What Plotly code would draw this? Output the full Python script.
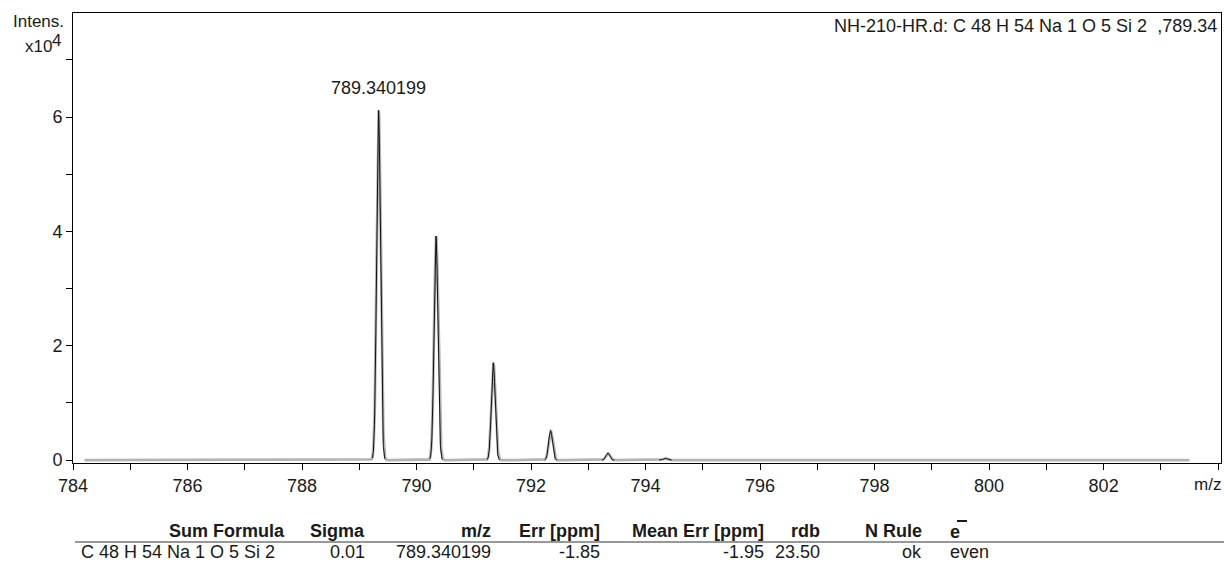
import numpy as np
import plotly.graph_objects as go

# ---- data ----
peak_mz = [789.340199, 790.3435, 791.3440, 792.3445, 793.3450, 794.3455]
peak_intensity = [61100, 39100, 16900, 5100, 1200, 300]   # counts
meas_intensity = [61200, 39200, 17000, 5150, 1250, 320]
mz_start, mz_end = 784.2, 803.5
peak_sigma = 0.036

table_headers = ["Sum Formula", "Sigma", "m/z", "Err [ppm]", "Mean Err [ppm]", "rdb", "N Rule", "e"]
table_row = ["C 48 H 54 Na 1 O 5 Si 2", "0.01", "789.340199", "-1.85", "-1.95", "23.50", "ok", "even"]
title_text = "NH-210-HR.d: C 48 H 54 Na 1 O 5 Si 2  ,789.34"
label_text = "789.340199"

# ---- profiles ----
x = np.linspace(mz_start, mz_end, 12000)
sim = np.zeros_like(x)
for c, h in zip(peak_mz, peak_intensity):
    sim += h * np.exp(-0.5 * ((x - c) / peak_sigma) ** 2)

mx, my = [], []
for c, h in zip(peak_mz, meas_intensity):
    xs = np.linspace(c - 0.11, c + 0.11, 120)
    ys = h * np.exp(-0.5 * ((xs - c + 0.004) / (peak_sigma * 0.92)) ** 2)
    mx += list(xs) + [None]
    my += list(ys / 1e4) + [None]

FONT = "Liberation Sans, Arial, sans-serif"
TXT = "#1a1a1a"
FS = 18

fig = go.Figure()
fig.add_trace(go.Scatter(x=x, y=sim / 1e4, mode="lines",
                         line=dict(color="#b4b4b4", width=2.8), hoverinfo="skip"))
fig.add_trace(go.Scatter(x=mx, y=my, mode="lines",
                         line=dict(color="#111111", width=1), hoverinfo="skip"))

L, R, T, B = 73, 3, 13, 101
W, H = 1224, 564
pw, ph = W - L - R, H - T - B

def px(xp):
    return (xp - L) / pw

def py(yp):
    return (H - B - yp) / ph

axis_common = dict(tickmode="linear", dtick=2,
                   ticks="outside", ticklen=6, tickcolor="black", tickwidth=1,
                   showgrid=False, zeroline=False, showline=True, linecolor="black",
                   linewidth=1, mirror=True,
                   tickfont=dict(size=FS, family=FONT, color=TXT))

fig.update_layout(
    width=W, height=H,
    margin=dict(l=L, r=R, t=T, b=B),
    paper_bgcolor="white", plot_bgcolor="white",
    showlegend=False,
    font=dict(family=FONT, size=FS, color=TXT),
    xaxis=dict(range=[784, 804.05], tick0=784,
               minor=dict(dtick=1, ticks="outside", ticklen=6, tickcolor="black"),
               **axis_common),
    yaxis=dict(range=[-0.05, 7.82], tick0=0,
               minor=dict(dtick=1, ticks="outside", ticklen=6, tickcolor="black"),
               **axis_common),
)

ann = []
def A(text, xp, yp, xanchor="left", bold=False, size=FS):
    ann.append(dict(text=("<b>%s</b>" % text) if bold else text,
                    x=px(xp), y=py(yp), xref="paper", yref="paper",
                    xanchor=xanchor, yanchor="middle", showarrow=False,
                    font=dict(family=FONT, size=size, color=TXT)))

A(title_text, 1219, 26, "right")
A("Intens.", 66, 21, "right", size=17)
A("x10", 54, 46, "right", size=17)
A("4", 50, 40, "left", size=17)
A("m/z", 1223, 484, "right", size=17)
ann.append(dict(text=label_text, x=peak_mz[0], y=peak_intensity[0] / 1e4,
                xref="x", yref="y", xanchor="center", yanchor="bottom",
                yshift=11, showarrow=False, font=dict(family=FONT, size=FS, color=TXT)))

hdr_right = [287, 367, 493, 602, 766, 822, 924, None]
row_right = [None, 367, 493, 602, 766, 822, 924, None]
for i, h in enumerate(table_headers):
    if hdr_right[i] is None:
        A(h, 948, 532, "left", bold=True)
    else:
        A(h, hdr_right[i], 531, "right", bold=True)
for i, v in enumerate(table_row):
    if i == 0:
        A(v, 79, 552, "left")
    elif row_right[i] is None:
        A(v, 948, 552, "left")
    else:
        A(v, row_right[i], 552, "right")
fig.update_layout(annotations=ann)

fig.add_shape(type="line", xref="paper", yref="paper",
              x0=px(75), x1=px(1224), y0=py(542), y1=py(542),
              line=dict(color="#333333", width=1.2))
# electron superscript bar (e-)
fig.add_shape(type="line", xref="paper", yref="paper",
              x0=px(957), x1=px(967), y0=py(521), y1=py(521),
              line=dict(color="#1a1a1a", width=2))

fig.write_html("out.html", config={"displayModeBar": False},
               post_script="document.body.style.margin='0';document.body.style.overflow='hidden';")
